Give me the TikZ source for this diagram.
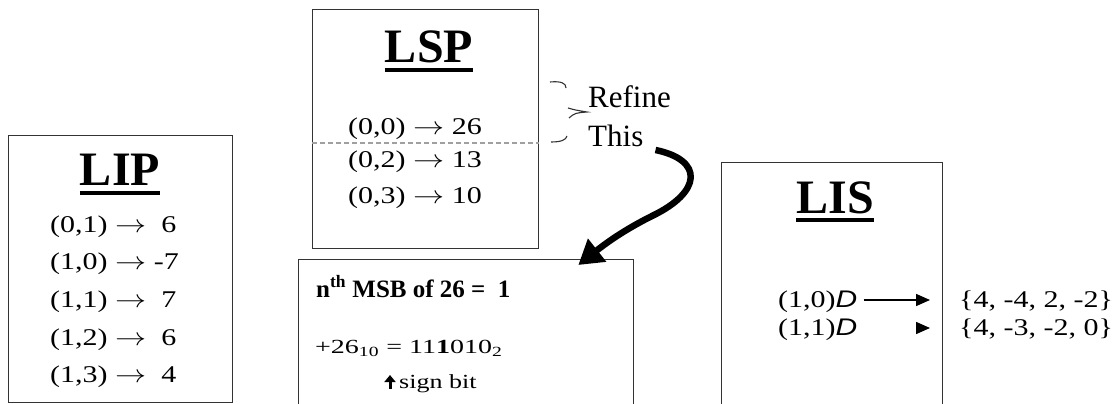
\documentclass[tikz,border=0pt]{standalone}
\usepackage{fontspec}
\setmainfont{Liberation Serif}
\newfontfamily\sansD{Liberation Sans}
\usetikzlibrary{arrows.meta,positioning}
\definecolor{spLine}{HTML}{333333}
\definecolor{spDash}{HTML}{A0A0A0}
\definecolor{spBrace}{HTML}{333333}
\newcommand{\stx}[1]{\scalebox{1.25}[1]{#1}}
\newcommand{\Dset}{{\sansD\itshape D}}
\newcommand{\ar}{$\rightarrow$}

\begin{document}
\begin{tikzpicture}[x=1pt,y=-1pt,
    lst/.style={draw=spLine,line width=1.3pt,anchor=north west,inner sep=0pt},
    ttl/.style={font=\fontsize{48}{48}\selectfont\bfseries,anchor=base,inner sep=0pt},
    ent/.style={font=\fontsize{24}{24}\selectfont,anchor=base west,inner sep=0pt},
    big/.style={font=\fontsize{31}{31}\selectfont,anchor=base west,inner sep=0pt},
    uline/.style={line width=4pt},
    brc/.style={spBrace,line width=1.1pt},
    >={Triangle[length=14pt,width=12pt]}]
  \useasboundingbox (0,0) rectangle (1119,404);
  \clip (0,0) rectangle (1119,404);

  % the three lists and the refinement box
  \node[lst,minimum width=224pt,minimum height=267pt] (lip) at (8,135) {};
  \node[lst,minimum width=226pt,minimum height=239pt] (lsp) at (312,9) {};
  \node[lst,minimum width=335pt,minimum height=180pt] (msb) at (298,259) {};
  \node[lst,minimum width=221pt,minimum height=280pt] (lis) at (721,162) {};

  % titles
  \node[ttl] (liphead) at (120,185) {LIP};
  \node[ttl] (lsphead) at (429,63) {LSP};
  \node[ttl] (lishead) at (835,213) {LIS};
  \draw[uline] ([yshift=-8pt]liphead.base west) -- ([yshift=-8pt]liphead.base east);
  \draw[uline] ([yshift=-7pt]lsphead.base west) -- ([yshift=-7pt]lsphead.base east);
  \draw[uline] ([yshift=-7pt]lishead.base west) -- ([yshift=-7pt]lishead.base east);

  % LIP entries
  \node[ent] (lip1) at (50,232) {\stx{(0,1) \ar\ \ 6}};
  \node[ent] (lip2) at (50,269) {\stx{(1,0) \ar\ -7}};
  \node[ent] (lip3) at (50,307) {\stx{(1,1) \ar\ \ 7}};
  \node[ent] (lip4) at (50,345) {\stx{(1,2) \ar\ \ 6}};
  \node[ent] (lip5) at (50,382) {\stx{(1,3) \ar\ \ 4}};

  % LSP entries
  \node[ent] (lsp1) at (348,134) {\stx{(0,0) \ar\ 26}};
  \node[ent] (lsp2) at (348,167) {\stx{(0,2) \ar\ 13}};
  \node[ent] (lsp3) at (348,203) {\stx{(0,3) \ar\ 10}};
  \draw[spDash,line width=1.5pt,dash pattern=on 5pt off 3pt]
    ([yshift=-134pt]lsp.north west) -- ([yshift=-134pt]lsp.north east);

  % refine this
  \draw[brc] (550,82) .. controls (561,81) and (566,83) .. (566,88);
  \draw[brc] (568,108) .. controls (575,110) .. (587,112) .. controls (575,113) .. (569,118);
  \draw[brc] (551,142) .. controls (561,142) and (566,140) .. (567,136);
  \node[big] (refine) at (588,107) {Refine};
  \node[big] (thisw) at (588,146) {This};
  \draw[line width=6.5pt,-{Triangle[length=24pt,width=28pt]}]
    ([shift={(12,4)}]thisw.base east) .. controls (704,160) and (702,192) .. (652,216)
    .. controls (628,228) and (610,240) .. ([shift={(-56,6)}]msb.north east);

  % nth MSB
  \node[ent,font=\fontsize{25}{25}\selectfont\bfseries] (msbhead) at (316,297)
    {n\textsuperscript{th} MSB of 26 =\ \ 1};
  \node[ent,font=\fontsize{20}{20}\selectfont] (bin) at (315,353)
    {\scalebox{1.4}[1]{+26\textsubscript{10} = 11\textbf{1}010\textsubscript{2}}};
  \node[ent,font=\fontsize{20}{20}\selectfont] (sign) at (399,388) {\scalebox{1.3}[1]{sign bit}};
  \draw[line width=3pt,-{Triangle[length=7pt,width=11pt]}]
    ([xshift=-9pt,yshift=-1pt]sign.base west) -- ([xshift=-9pt,yshift=13pt]sign.base west);

  % LIS entries
  \node[ent] (lis1) at (778,307) {\stx{(1,0)\Dset}};
  \node[ent] (lis2) at (778,335) {\stx{(1,1)\Dset}};
  \node[ent] (set1) at (959,307) {\stx{\{4, -4, 2, -2\}}};
  \node[ent] (set2) at (959,335) {\stx{\{4, -3, -2, 0\}}};
  \draw[line width=1.5pt,->] ([xshift=6pt,yshift=7pt]lis1.base east) -- ([xshift=-29pt,yshift=7pt]set1.base west);
  \draw[line width=1.5pt,->] ([xshift=-43pt,yshift=7pt]set2.base west) -- ([xshift=-29pt,yshift=7pt]set2.base west);
\end{tikzpicture}
\end{document}
